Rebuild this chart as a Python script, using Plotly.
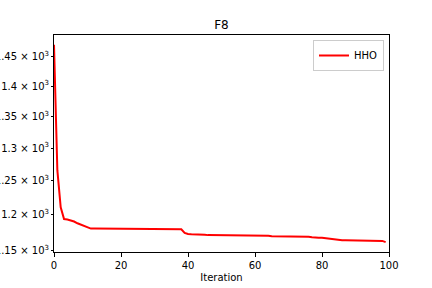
import math
import plotly.graph_objects as go

iterations = list(range(100))
hho_values = [
    1471, 1266, 1211, 1194, 1193.5, 1192.5, 1190.5, 1188, 1186, 1183.5,
    1182.5, 1180.5, 1180.5, 1180.5, 1180.5, 1180.5, 1180.5, 1180.5, 1180.5, 1180.5,
    1180.5, 1180.2, 1180.2, 1180.2, 1180.2, 1180.2, 1180.2, 1180.2, 1180.2, 1180.2,
    1180.2, 1179.8, 1179.8, 1179.8, 1179.8, 1179.8, 1179.8, 1179.8, 1179.5, 1174.5,
    1173, 1172.6, 1172.6, 1172.6, 1172.6, 1171.8, 1171.3, 1171.3, 1171.3, 1171.3,
    1171.3, 1171.3, 1171.3, 1170.8, 1170.8, 1170.8, 1170.8, 1170.8, 1170.8, 1170.8,
    1170.8, 1170.8, 1170.8, 1170.8, 1170.3, 1169.6, 1169.6, 1169.6, 1169.6, 1169.6,
    1169.6, 1169.0, 1169.0, 1169.0, 1169.0, 1169.0, 1169.0, 1168.2, 1167.5, 1167.5,
    1167.5, 1166.8, 1166.2, 1165.5, 1165.0, 1164.6, 1164.2, 1164.2, 1164.2, 1164.2,
    1164.2, 1163.8, 1163.8, 1163.8, 1163.8, 1163.8, 1163.2, 1163.2, 1163.2, 1161.5,
]
y_tick_vals = [1150, 1200, 1250, 1300, 1350, 1400, 1450]
y_tick_text = ["1.15 × 10<sup>3</sup>", "1.2 × 10<sup>3</sup>", "1.25 × 10<sup>3</sup>",
               "1.3 × 10<sup>3</sup>", "1.35 × 10<sup>3</sup>", "1.4 × 10<sup>3</sup>",
               "1.45 × 10<sup>3</sup>"]
x_tick_vals = [0, 20, 40, 60, 80, 100]

fig = go.Figure()
fig.add_trace(go.Scatter(x=iterations, y=hho_values, mode="lines", name="HHO",
                         line=dict(color="red", width=2)))

lo, hi = min(hho_values), max(hho_values)
span = math.log10(hi) - math.log10(lo)
yr = [math.log10(lo) - 0.05 * span, math.log10(hi) + 0.05 * span]

fig.update_layout(
    template="none",
    width=432, height=288,
    margin=dict(l=54, r=43, t=35, b=36, pad=0),
    paper_bgcolor="white", plot_bgcolor="white",
    font=dict(family="DejaVu Sans", size=10, color="black"),
    title=dict(text="F8", x=(54 + 389) / 2 / 432, xanchor="center",
               y=1 - 25 / 288, yanchor="middle", font=dict(size=12)),
    showlegend=True,
    legend=dict(x=0.985, y=0.977, xanchor="right", yanchor="top",
                bordercolor="#cccccc", borderwidth=1, bgcolor="rgba(255,255,255,0.8)",
                font=dict(size=10), itemwidth=30),
    xaxis=dict(range=[0, 100], tickvals=x_tick_vals, showgrid=False, zeroline=False,
               automargin=False,
               showline=True, mirror=True, linecolor="black", linewidth=1,
               ticks="outside", ticklen=3.5, tickcolor="black", tickwidth=1,
               title=dict(text="Iteration", standoff=4, font=dict(size=10))),
    yaxis=dict(type="log", range=yr, tickvals=y_tick_vals, ticktext=y_tick_text,
               automargin=False,
               showgrid=False, zeroline=False, showline=True, mirror=True,
               linecolor="black", linewidth=1, ticks="outside", ticklen=2,
               tickcolor="black", tickwidth=1),
)
fig.write_html("out.html")
